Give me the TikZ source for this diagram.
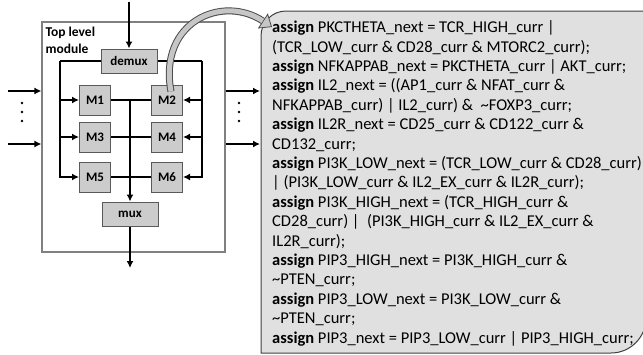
\documentclass[tikz,border=0pt]{standalone}
\usepackage{fontspec}
\setmainfont{Carlito}
\usetikzlibrary{arrows.meta,positioning}
\tikzset{
  >={Latex[length=7pt,width=7pt]},
}
\tikzstyle{block}=[draw=gray!70!black,fill=gray!40,line width=1pt,inner sep=0pt,font=\bfseries\fontsize{13}{15}\selectfont]
\tikzstyle{modbox}=[block,minimum width=31pt,minimum height=30pt]
\tikzstyle{muxbox}=[block,minimum width=56pt,minimum height=24pt]
\tikzstyle{bus}=[line width=2.8pt]
\tikzstyle{wire}=[line width=1.8pt]
\tikzstyle{codebox}=[draw=black!75,fill=black!12,line width=1pt]

\begin{document}
\begin{tikzpicture}[x=1pt,y=-1pt]
    \useasboundingbox (0,0) rectangle (643,354);
    % top level module
    \node[draw=gray,line width=1.2pt,minimum width=183pt,minimum height=230pt] (top) at (133.5,137) {};
    \node[anchor=north west,inner sep=0pt,align=left,font=\bfseries\fontsize{13.5}{17}\selectfont]
      (toplabel) at ([shift={(4pt,-5pt)}]top.north west) {Top level\\module};
    \coordinate (bl) at (60,61);
    \coordinate (br) at (202,61);
    \draw[bus] (bl) -- (br);
    \node[muxbox] (demux) at (129,61) {demux};
    \node[modbox] (m1) at (95,100) {M1};
    \node[modbox] (m2) at (167,100) {M2};
    \node[modbox] (m3) at (95,137) {M3};
    \node[modbox] (m4) at (167,137) {M4};
    \node[modbox] (m5) at (95,177) {M5};
    \node[modbox] (m6) at (167,177) {M6};
    \node[muxbox] (mux) at (130,214) {mux};
    % demux bus to the modules
    \draw[bus,->] (bl) |- (m5);
    \draw[bus,->] (bl |- m1) -- (m1);
    \draw[bus,->] (bl |- m3) -- (m3);
    \draw[bus,->] (br) |- (m6);
    \draw[bus,->] (br |- m2) -- (m2);
    \draw[bus,->] (br |- m4) -- (m4);
    % module outputs to mux
    \draw[wire] (m1) -- (m2);
    \draw[wire] (m3) -- (m4);
    \draw[wire] (m5) -- (m6);
    \draw[bus,->] (mux.north |- m1) -- (mux);
    \coordinate (din) at (129,2);
    \coordinate (mout) at (130,268);
    \draw[bus,->] (din) -- (demux);
    \draw[bus,->] (mux) -- (mout);
    % inputs and outputs of the module
    \coordinate (in1) at (8,91);
    \coordinate (in2) at (8,144);
    \coordinate (out1) at (260,91);
    \coordinate (out2) at (260,144);
    \draw[bus,->] (in1) -- (in1 -| top.west);
    \draw[bus,->] (in2) -- (in2 -| top.west);
    \draw[bus,->] (out1 -| top.east) -- (out1);
    \draw[bus,->] (out2 -| top.east) -- (out2);
    \fill (22,103) circle (1.4);
    \fill (22,112) circle (1.4);
    \fill (22,121) circle (1.4);
    \fill (239,103) circle (1.4);
    \fill (239,112) circle (1.4);
    \fill (239,121) circle (1.4);
    % verilog of one module
    \draw[codebox] (261,353) -- (261,36) .. controls (261,22.2) and (272.2,11) .. (286,11)
      -- (646,11) -- (646,318) .. controls (646,337.3) and (630.3,353) .. (611,353) -- cycle;
    \node[anchor=north west,inner sep=0pt,align=left,font=\fontsize{16.5}{19.4}\selectfont] (code) at (272,20.5) {%
      \textbf{assign} PKCTHETA\_next = TCR\_HIGH\_curr |\\
      (TCR\_LOW\_curr \& CD28\_curr \& MTORC2\_curr);\\
      \textbf{assign} NFKAPPAB\_next = PKCTHETA\_curr | AKT\_curr;\\
      \textbf{assign} IL2\_next = ((AP1\_curr \& NFAT\_curr \&\\
      NFKAPPAB\_curr) | IL2\_curr) \&\ \ \textasciitilde FOXP3\_curr;\\
      \textbf{assign} IL2R\_next = CD25\_curr \& CD122\_curr \&\\
      CD132\_curr;\\
      \textbf{assign} PI3K\_LOW\_next = (TCR\_LOW\_curr \& CD28\_curr)\\
      | (PI3K\_LOW\_curr \& IL2\_EX\_curr \& IL2R\_curr);\\
      \textbf{assign} PI3K\_HIGH\_next = (TCR\_HIGH\_curr \&\\
      CD28\_curr) |\ \ (PI3K\_HIGH\_curr \& IL2\_EX\_curr \&\\
      IL2R\_curr);\\
      \textbf{assign} PIP3\_HIGH\_next = PI3K\_HIGH\_curr \&\\
      \textasciitilde PTEN\_curr;\\
      \textbf{assign} PIP3\_LOW\_next = PI3K\_LOW\_curr \&\\
      \textasciitilde PTEN\_curr;\\
      \textbf{assign} PIP3\_next = PIP3\_LOW\_curr | PIP3\_HIGH\_curr;};
    % zoom arrow from M2
    \coordinate (zoomend) at (272,27);
    \draw[line width=7pt,draw=gray!60!black,-{Triangle[length=11pt,width=18pt,fill=gray!45,line width=0.8pt]}]
      (m2.north) ++(4pt,-7pt) .. controls (158,22) and (222,-6) .. (zoomend);
    \draw[line width=5pt,gray!45,shorten >=11pt]
      (m2.north) ++(4pt,-7pt) .. controls (158,22) and (222,-6) .. (zoomend);
  \end{tikzpicture}
\end{document}
